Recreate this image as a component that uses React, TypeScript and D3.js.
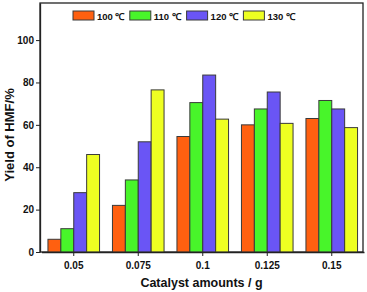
import React, { useEffect, useRef } from 'react';
import * as d3 from 'd3';

const categories = ['0.05', '0.075', '0.1', '0.125', '0.15'];
const seriesNames = ['100 ℃', '110 ℃', '120 ℃', '130 ℃'];
const seriesColors = ['#ff6010', '#48f52a', '#6a55f5', '#eeff22'];
const y100 = [6, 22, 54.5, 60, 63];
const y110 = [11, 34, 70.5, 67.5, 71.5];
const y120 = [28, 52, 83.5, 75.5, 67.5];
const y130 = [46, 76.5, 62.7, 60.7, 58.7];
const yTicks = [0, 20, 40, 60, 80, 100];

const W = 367;
const H = 292;

const App = () => {
  const svgRef = useRef<SVGSVGElement>(null);

  useEffect(() => {
    const svg = d3.select(svgRef.current);
    svg.selectAll('*').remove();

    const font = 'Liberation Sans, Arial, sans-serif';
    const left = 40, right = 363, top = 3, bottom = 252;

    const x = d3.scaleBand<string>()
      .domain(categories)
      .range([left + 1.5, right + 1])
      .paddingInner(0.2)
      .paddingOuter(0.1);

    const x1 = d3.scaleBand<number>()
      .domain([0, 1, 2, 3])
      .range([0, x.bandwidth()]);

    const y = d3.scaleLinear().domain([0, 117.5]).range([bottom, top]);

    const allSeries = [y100, y110, y120, y130];

    // frame
    svg.append('rect')
      .attr('x', left)
      .attr('y', top)
      .attr('width', right - left)
      .attr('height', bottom - top)
      .attr('fill', 'white')
      .attr('stroke', '#222')
      .attr('stroke-width', 1.3);

    // bars
    const groups = svg.append('g')
      .selectAll('g')
      .data(categories)
      .join('g')
      .attr('transform', d => `translate(${x(d)},0)`);

    groups.selectAll('rect')
      .data((_, i) => allSeries.map((s, k) => ({ k, v: s[i] })))
      .join('rect')
      .attr('x', d => x1(d.k)!)
      .attr('y', d => y(d.v))
      .attr('width', x1.bandwidth())
      .attr('height', d => bottom - y(d.v))
      .attr('fill', d => seriesColors[d.k])
      .attr('stroke', '#3a3a3a')
      .attr('stroke-width', 1);

    // y axis
    const yAxis = svg.append('g')
      .attr('transform', `translate(${left},0)`)
      .call(d3.axisLeft(y).tickValues(yTicks).tickSize(4).tickSizeOuter(0));
    yAxis.select('.domain').attr('stroke', '#222').attr('stroke-width', 1.3);
    yAxis.selectAll('line').attr('stroke', '#222');
    yAxis.selectAll('text')
      .attr('font-family', font)
      .attr('font-weight', 'bold')
      .attr('font-size', 10)
      .attr('fill', '#111')
      .attr('x', -6);

    // x axis
    const xAxis = svg.append('g')
      .attr('transform', `translate(0,${bottom})`)
      .call(d3.axisBottom(x).tickSize(4).tickSizeOuter(0));
    xAxis.select('.domain').attr('stroke', '#222').attr('stroke-width', 1.3);
    xAxis.selectAll('line').attr('stroke', '#222');
    xAxis.selectAll('text')
      .attr('font-family', font)
      .attr('font-weight', 'bold')
      .attr('font-size', 10)
      .attr('fill', '#111')
      .attr('y', 10);

    // axis titles
    svg.append('text')
      .attr('x', (left + right) / 2)
      .attr('y', 287)
      .attr('text-anchor', 'middle')
      .attr('font-family', font)
      .attr('font-weight', 'bold')
      .attr('font-size', 12.5)
      .attr('fill', '#111')
      .text('Catalyst amounts / g');

    svg.append('text')
      .attr('transform', `translate(14,135) rotate(-90)`)
      .attr('text-anchor', 'middle')
      .attr('font-family', font)
      .attr('font-weight', 'bold')
      .attr('font-size', 13)
      .attr('fill', '#111')
      .text('Yield of HMF/%');

    // legend
    const legend = svg.append('g')
      .selectAll('g')
      .data(seriesNames)
      .join('g')
      .attr('transform', (_, i) => `translate(${73 + i * 56.8},11)`);
    legend.append('rect')
      .attr('width', 21)
      .attr('height', 9)
      .attr('fill', (_, i) => seriesColors[i])
      .attr('stroke', '#3a3a3a');
    legend.append('text')
      .attr('x', 24)
      .attr('y', 8.5)
      .attr('font-family', font)
      .attr('font-weight', 'bold')
      .attr('font-size', 9.5)
      .attr('fill', '#111')
      .text(d => d);
  }, []);

  return (
    <svg
      ref={svgRef}
      width={W}
      height={H}
      style={{ position: 'absolute', left: 0, top: 0, background: 'white' }}
    />
  );
};

export default App;
